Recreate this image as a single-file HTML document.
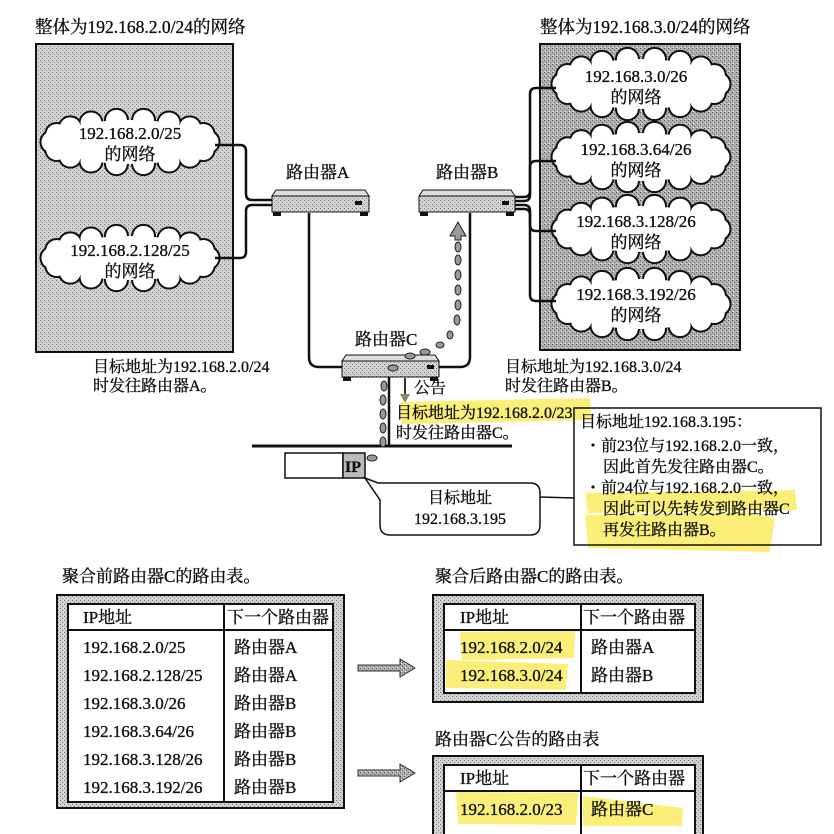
<!DOCTYPE html>
<html><head><meta charset="utf-8"><style>
html,body{margin:0;padding:0;background:#fff;}
svg{display:block;}
text{font-family:"Liberation Serif","Noto Serif CJK SC","Noto Sans CJK SC",serif;font-size:16px;fill:#111;stroke:#111;stroke-width:0.35px;}
.b{font-size:17.5px;}
.t{font-size:17px;}
</style></head><body>
<svg width="834" height="834" viewBox="0 0 834 834" xmlns="http://www.w3.org/2000/svg">
<defs>
<pattern id="dots" width="4" height="4" patternUnits="userSpaceOnUse">
<rect width="4" height="4" fill="#d2d2d2"/><rect x="0" y="0" width="1" height="1" fill="#777"/><rect x="2" y="2" width="1" height="1" fill="#888"/>
</pattern>
<pattern id="dots2" width="4" height="4" patternUnits="userSpaceOnUse">
<rect width="4" height="4" fill="#b0b0b0"/><rect x="0" y="0" width="1" height="1" fill="#555"/><rect x="2" y="2" width="1" height="1" fill="#666"/><rect x="1" y="3" width="1" height="1" fill="#eee"/>
</pattern>
</defs>

<text class="b" x="35" y="33">整体为192.168.2.0/24的网络</text>
<text class="b" x="540" y="33">整体为192.168.3.0/24的网络</text>

<rect x="36" y="44" width="197" height="308" fill="url(#dots)" stroke="#111" stroke-width="2"/>
<rect x="540" y="44" width="200" height="306" fill="url(#dots2)" stroke="#111" stroke-width="2"/>

<g id="clouds"></g>

<g fill="none" stroke="#111" stroke-width="2.5">
<path d="M215 145 H240 Q246 145 246 151 V194 Q246 200 252 200 H272"/>
<path d="M215 258 H240 Q246 258 246 252 V211 Q246 205 252 205 H272"/>
<path d="M515 197 H524 Q530 197 530 191 V94 Q530 88 536 88 H556"/>
<path d="M515 201 H524 Q530 201 530 195 V167 Q530 161 536 161 H556"/>
<path d="M515 205 H524 Q530 205 530 211 V225 Q530 231 536 231 H556"/>
<path d="M515 209 H524 Q530 209 530 215 V295 Q530 301 536 301 H556"/>
<path d="M309 213 V357 Q309 367 319 367 H342"/>
<path d="M470 213 V357 Q470 367 460 367 H439"/>
<path d="M389 377 V446"/>
</g>
<line x1="252" y1="446" x2="512" y2="446" stroke="#111" stroke-width="3"/>

<g>
<polygon points="276,190 365,190 369,196 272,196" fill="#ddd" stroke="#111"/>
<rect x="272" y="196" width="97" height="16" fill="url(#dots)" stroke="#111"/>
<rect x="273" y="212" width="8" height="4" fill="#111"/><rect x="360" y="212" width="8" height="4" fill="#111"/>
<rect x="355" y="201" width="7" height="4" fill="#111"/>
<polygon points="423,190 511,190 515,196 419,196" fill="#ddd" stroke="#111"/>
<rect x="419" y="196" width="96" height="16" fill="url(#dots)" stroke="#111"/>
<rect x="420" y="212" width="8" height="4" fill="#111"/><rect x="506" y="212" width="8" height="4" fill="#111"/>
<rect x="502" y="201" width="7" height="4" fill="#111"/>
<polygon points="346,355 435,355 439,361 342,361" fill="#ddd" stroke="#111"/>
<rect x="342" y="361" width="97" height="16" fill="url(#dots)" stroke="#111"/>
<rect x="343" y="377" width="8" height="4" fill="#111"/><rect x="430" y="377" width="8" height="4" fill="#111"/>
<rect x="427" y="365" width="7" height="4" fill="#111"/>
</g>
<text class="t" x="286" y="178">路由器A</text>
<text class="t" x="436" y="178">路由器B</text>
<text class="t" x="355" y="345">路由器C</text>

<g fill="#999" stroke="#222" stroke-width="1">
<ellipse cx="383" cy="442" rx="3" ry="5"/><ellipse cx="383" cy="428" rx="3" ry="5"/><ellipse cx="383" cy="414" rx="3" ry="5"/><ellipse cx="383" cy="400" rx="3" ry="5"/><ellipse cx="384" cy="386" rx="3" ry="5"/>
<ellipse cx="393" cy="368" rx="5" ry="3"/><ellipse cx="410" cy="356" rx="5" ry="3"/><ellipse cx="425" cy="352" rx="5" ry="3"/>
<ellipse cx="440" cy="345" rx="4" ry="3"/><ellipse cx="450" cy="335" rx="3" ry="4"/><ellipse cx="457" cy="320" rx="3" ry="5"/>
<ellipse cx="458" cy="305" rx="3" ry="5"/><ellipse cx="458" cy="290" rx="3" ry="5"/><ellipse cx="458" cy="275" rx="3" ry="5"/><ellipse cx="458" cy="260" rx="3" ry="5"/><ellipse cx="458" cy="247" rx="3" ry="5"/>
<polygon points="450,236 458,222 466,236 461,236 461,240 455,240 455,236"/>
<ellipse cx="372" cy="458" rx="5" ry="3"/>
</g>

<line x1="405" y1="378" x2="405" y2="398" stroke="#333" stroke-width="2"/>
<polygon points="400,394 410,394 405,403" fill="#886"/>
<text x="414" y="393">公告</text>
<path d="M400 402 L590 398 L591 420 L402 424 Z" fill="#fbef7a"/>
<text x="396" y="418">目标地址为192.168.2.0/23</text>
<text x="396" y="438">时发往路由器C。</text>

<text x="93" y="372">目标地址为192.168.2.0/24</text>
<text x="93" y="391">时发往路由器A。</text>
<text x="505" y="372">目标地址为192.168.3.0/24</text>
<text x="505" y="391">时发往路由器B。</text>

<rect x="285" y="453" width="58" height="25" fill="#fff" stroke="#111" stroke-width="1.5"/>
<rect x="343" y="453" width="22" height="25" fill="#bbb" stroke="#111" stroke-width="1.5"/>
<text x="345" y="472" style="font-weight:bold">IP</text>
<path d="M365 478 L378 483 H530 Q540 483 540 493 V525 Q540 535 530 535 H390 Q380 535 380 525 V500 Z" fill="#fff" stroke="#111" stroke-width="1.5"/>
<text x="460" y="503" text-anchor="middle">目标地址</text>
<text x="460" y="524" text-anchor="middle">192.168.3.195</text>
<line x1="540" y1="497" x2="574" y2="498" stroke="#111" stroke-width="1.5"/>

<path d="M585 493 L795 490 L797 510 L588 513 Z" fill="#fbef7a"/>
<path d="M585 515 L745 512 L775 518 L770 552 L588 548 Z" fill="#fbef7a"/>
<rect x="574" y="408" width="247" height="137" fill="none" stroke="#111" stroke-width="1.5"/>
<text x="580" y="427">目标地址192.168.3.195：</text>
<text x="585" y="451">・前23位与192.168.2.0一致，</text>
<text x="603" y="472">因此首先发往路由器C。</text>
<text x="585" y="493">・前24位与192.168.2.0一致，</text>
<text x="603" y="514">因此可以先转发到路由器C</text>
<text x="603" y="535">再发往路由器B。</text>

<text class="t" x="62" y="582">聚合前路由器C的路由表。</text>
<text class="t" x="435" y="582">聚合后路由器C的路由表。</text>
<text class="t" x="435" y="745">路由器C公告的路由表</text>

<rect x="57" y="595" width="287" height="213" fill="url(#dots)" stroke="#111" stroke-width="2"/>
<rect x="68" y="604" width="265" height="198" fill="#fff" stroke="#111" stroke-width="2"/>
<line x1="68" y1="630" x2="333" y2="630" stroke="#111" stroke-width="2"/>
<line x1="224" y1="604" x2="224" y2="802" stroke="#111" stroke-width="2"/>
<g class="t">
<text class="t" x="83" y="623">IP地址</text><text class="t" x="227" y="623">下一个路由器</text>
<text class="t" x="83" y="653">192.168.2.0/25</text><text class="t" x="234" y="653">路由器A</text>
<text class="t" x="83" y="681">192.168.2.128/25</text><text class="t" x="234" y="681">路由器A</text>
<text class="t" x="83" y="709">192.168.3.0/26</text><text class="t" x="234" y="709">路由器B</text>
<text class="t" x="83" y="737">192.168.3.64/26</text><text class="t" x="234" y="737">路由器B</text>
<text class="t" x="83" y="765">192.168.3.128/26</text><text class="t" x="234" y="765">路由器B</text>
<text class="t" x="83" y="793">192.168.3.192/26</text><text class="t" x="234" y="793">路由器B</text>
</g>

<g fill="url(#dots2)" stroke="#333" stroke-width="1">
<polygon points="358,665 400,665 400,659 415,668 400,677 400,671 358,671"/>
<polygon points="358,770 400,770 400,764 415,773 400,782 400,776 358,776"/>
</g>

<rect x="433" y="595" width="270" height="107" fill="url(#dots)" stroke="#111" stroke-width="2"/>
<rect x="444" y="604" width="251" height="89" fill="#fff" stroke="#111" stroke-width="2"/>
<path d="M460 632 L575 630 L574 658 L462 660 Z" fill="#fbef7a"/>
<path d="M446 660 L568 664 L566 690 L446 688 Z" fill="#fbef7a"/>
<line x1="444" y1="630" x2="695" y2="630" stroke="#111" stroke-width="2"/>
<line x1="581" y1="604" x2="581" y2="693" stroke="#111" stroke-width="2"/>
<text class="t" x="460" y="623">IP地址</text><text class="t" x="583" y="623">下一个路由器</text>
<text class="t" x="460" y="653">192.168.2.0/24</text><text class="t" x="591" y="653">路由器A</text>
<text class="t" x="460" y="681">192.168.3.0/24</text><text class="t" x="591" y="681">路由器B</text>

<rect x="433" y="756" width="270" height="90" fill="url(#dots)" stroke="#111" stroke-width="2"/>
<rect x="444" y="765" width="251" height="80" fill="#fff" stroke="#111" stroke-width="2"/>
<path d="M456 792 L578 793 L576 825 L458 824 Z" fill="#fbef7a"/>
<path d="M583 796 L683 808 L682 826 L583 826 Z" fill="#fbef7a"/>
<line x1="444" y1="791" x2="695" y2="791" stroke="#111" stroke-width="2"/>
<line x1="581" y1="765" x2="581" y2="834" stroke="#111" stroke-width="2"/>
<text class="t" x="460" y="784">IP地址</text><text class="t" x="583" y="784">下一个路由器</text>
<text class="t" x="460" y="815">192.168.2.0/23</text><text class="t" x="591" y="815">路由器C</text>

<g>
<text class="t" x="130" y="139" text-anchor="middle">192.168.2.0/25</text><text class="t" x="130" y="160" text-anchor="middle">的网络</text>
<text class="t" x="130" y="256" text-anchor="middle">192.168.2.128/25</text><text class="t" x="130" y="277" text-anchor="middle">的网络</text>
<text class="t" x="636" y="82" text-anchor="middle">192.168.3.0/26</text><text class="t" x="636" y="103" text-anchor="middle">的网络</text>
<text class="t" x="636" y="155" text-anchor="middle">192.168.3.64/26</text><text class="t" x="636" y="176" text-anchor="middle">的网络</text>
<text class="t" x="636" y="227" text-anchor="middle">192.168.3.128/26</text><text class="t" x="636" y="248" text-anchor="middle">的网络</text>
<text class="t" x="636" y="300" text-anchor="middle">192.168.3.192/26</text><text class="t" x="636" y="321" text-anchor="middle">的网络</text>
</g>
</svg>
<script>
(function(){
var ns="http://www.w3.org/2000/svg",g=document.getElementById("clouds");
var cl=[[130,142,180,64],[130,258,180,64],[641,84,180,70],[641,157,180,68],[641,229,180,66],[641,304,180,70]];
function circ(cx,cy,r,fill,stroke){var c=document.createElementNS(ns,"circle");c.setAttribute("cx",cx);c.setAttribute("cy",cy);c.setAttribute("r",r);c.setAttribute("fill",fill);if(stroke){c.setAttribute("stroke",stroke);c.setAttribute("stroke-width","3");}return c;}
cl.forEach(function(k){
 var cx=k[0],cy=k[1],rx=k[2]/2-12,ry=k[3]/2-10,r=11,pts=[];
 for(var i=0;i<18;i++){var a=i/18*2*Math.PI;pts.push([cx+rx*Math.cos(a),cy+ry*Math.sin(a)]);}
 pts.forEach(function(p){g.appendChild(circ(p[0],p[1],r,"#111","#111"));});
 pts.forEach(function(p){g.appendChild(circ(p[0],p[1],r-0.5,"#fff"));});
 var e=document.createElementNS(ns,"ellipse");e.setAttribute("cx",cx);e.setAttribute("cy",cy);e.setAttribute("rx",rx);e.setAttribute("ry",ry);e.setAttribute("fill","#fff");g.appendChild(e);
});
})();
</script>
</body></html>
